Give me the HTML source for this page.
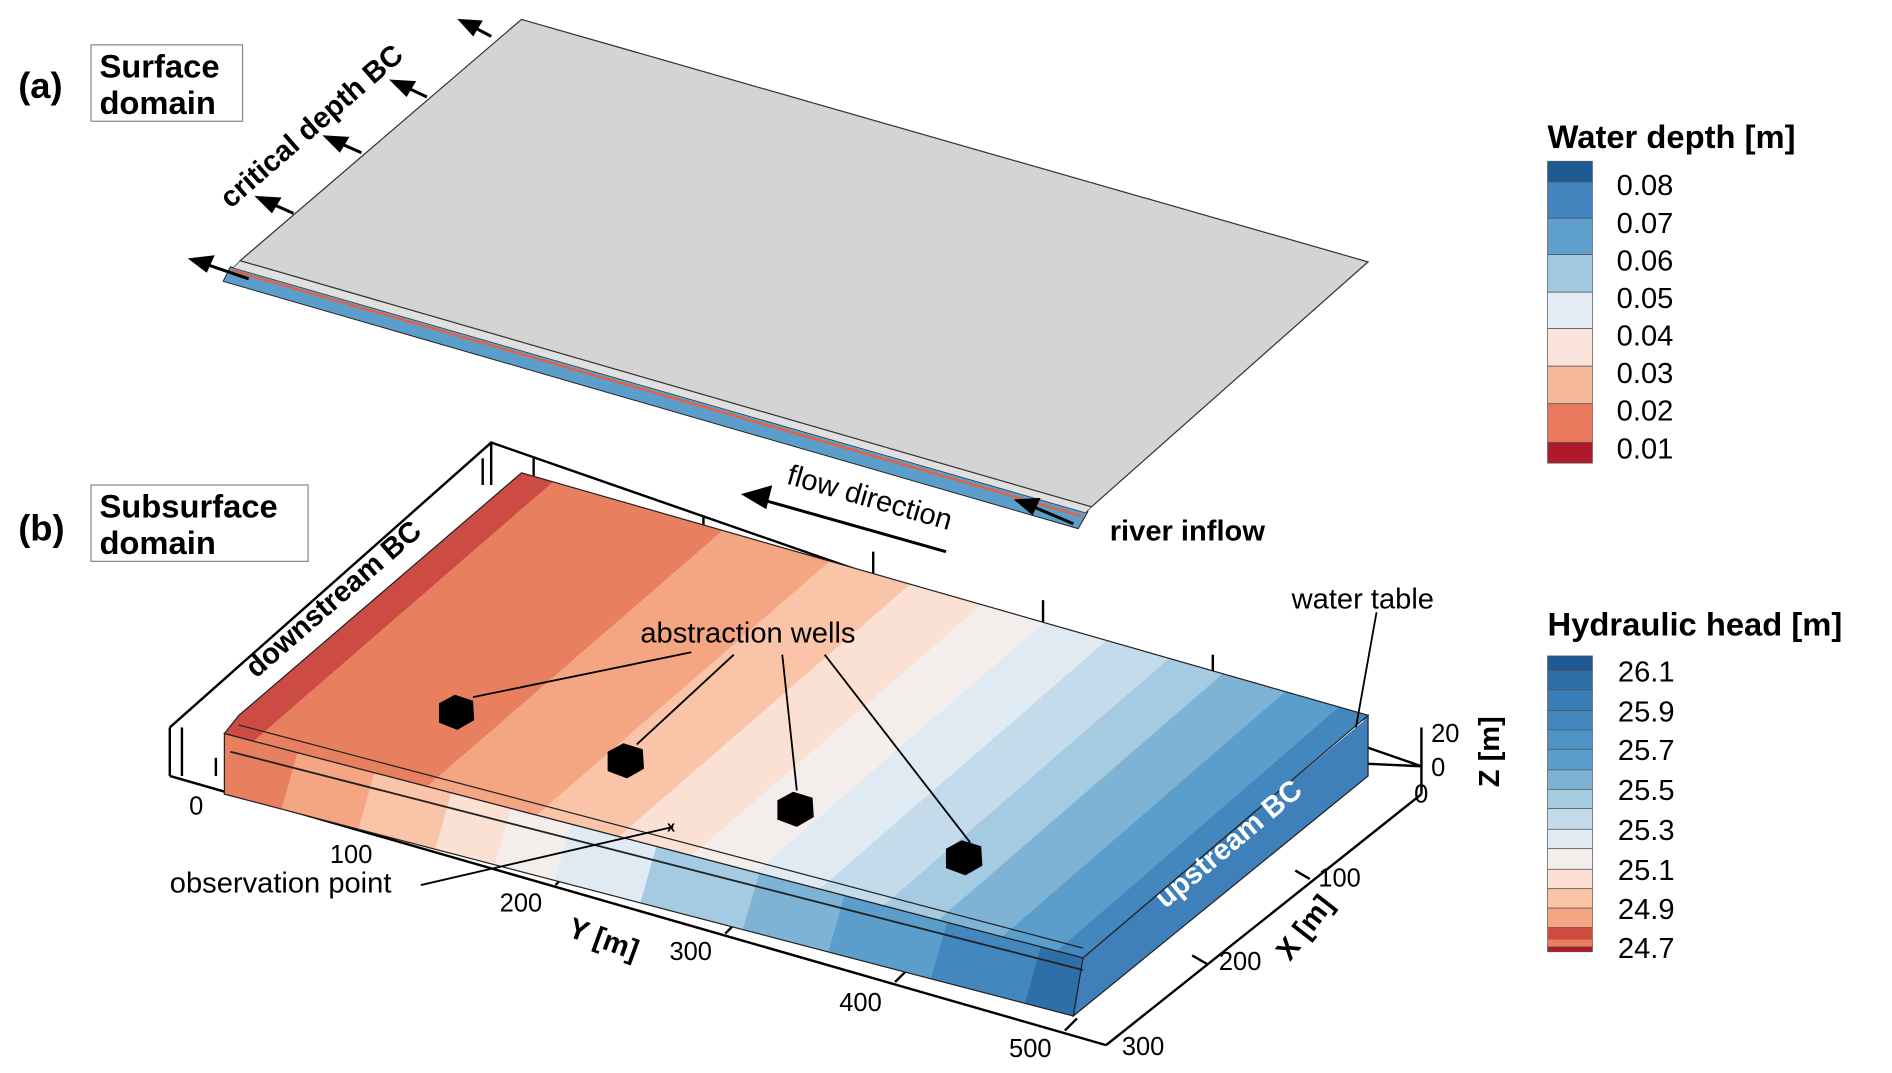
<!DOCTYPE html>
<html><head><meta charset="utf-8"><style>html,body{margin:0;padding:0;background:#fff}svg{display:block}text{font-family:"Liberation Sans",sans-serif}</style></head><body>
<svg width="1892" height="1073" viewBox="0 0 1560 885" preserveAspectRatio="none" xmlns="http://www.w3.org/2000/svg">
<defs>
<linearGradient id="hh" gradientUnits="userSpaceOnUse" x1="300" y1="490" x2="720" y2="975">
<stop offset="0" stop-color="#cc4c44"/><stop offset="0.05" stop-color="#cc4c44"/>
<stop offset="0.05" stop-color="#e8805f"/><stop offset="0.24" stop-color="#e8805f"/>
<stop offset="0.24" stop-color="#f4a582"/><stop offset="0.36" stop-color="#f4a582"/>
<stop offset="0.36" stop-color="#f9c4a8"/><stop offset="0.45" stop-color="#f9c4a8"/>
<stop offset="0.45" stop-color="#fbe1d4"/><stop offset="0.53" stop-color="#fbe1d4"/>
<stop offset="0.53" stop-color="#f3eeeb"/><stop offset="0.6" stop-color="#f3eeeb"/>
<stop offset="0.6" stop-color="#dfeaf2"/><stop offset="0.67" stop-color="#dfeaf2"/>
<stop offset="0.67" stop-color="#c3dbea"/><stop offset="0.74" stop-color="#c3dbea"/>
<stop offset="0.74" stop-color="#a5cbe2"/><stop offset="0.8" stop-color="#a5cbe2"/>
<stop offset="0.8" stop-color="#7fb3d5"/><stop offset="0.87" stop-color="#7fb3d5"/>
<stop offset="0.87" stop-color="#5b9ecb"/><stop offset="0.93" stop-color="#5b9ecb"/>
<stop offset="0.93" stop-color="#4387bf"/><stop offset="1" stop-color="#4387bf"/>
</linearGradient>
<linearGradient id="hf" gradientUnits="userSpaceOnUse" x1="185" y1="620" x2="885" y2="820">
<stop offset="0" stop-color="#e8805f"/><stop offset="0.08" stop-color="#e8805f"/>
<stop offset="0.08" stop-color="#f4a582"/><stop offset="0.17" stop-color="#f4a582"/>
<stop offset="0.17" stop-color="#f9c4a8"/><stop offset="0.26" stop-color="#f9c4a8"/>
<stop offset="0.26" stop-color="#fbe1d4"/><stop offset="0.33" stop-color="#fbe1d4"/>
<stop offset="0.33" stop-color="#f3eeeb"/><stop offset="0.4" stop-color="#f3eeeb"/>
<stop offset="0.4" stop-color="#dfeaf2"/><stop offset="0.5" stop-color="#dfeaf2"/>
<stop offset="0.5" stop-color="#a5cbe2"/><stop offset="0.62" stop-color="#a5cbe2"/>
<stop offset="0.62" stop-color="#7fb3d5"/><stop offset="0.72" stop-color="#7fb3d5"/>
<stop offset="0.72" stop-color="#5b9ecb"/><stop offset="0.84" stop-color="#5b9ecb"/>
<stop offset="0.84" stop-color="#4387bf"/><stop offset="0.95" stop-color="#4387bf"/>
<stop offset="0.95" stop-color="#2d6fa6"/><stop offset="1" stop-color="#2d6fa6"/>
</linearGradient>
</defs>

<!-- Surface domain -->
<polygon points="190,220 897,422 889,436 184,232" fill="#5b9ecb" stroke="#222" stroke-width="0.8"/>
<polygon points="198,215 900,418 895,423 192,221" fill="#e0e0e0" stroke="#333" stroke-width="0.6"/>
<line x1="191" y1="223" x2="893" y2="426" stroke="#e8603f" stroke-width="2"/>
<polygon points="430,16 1128,216 900,418 198,215" fill="#d4d4d4" stroke="#333" stroke-width="1"/>
<g stroke="#000" stroke-width="2.5" fill="#000">
<line x1="405" y1="30" x2="390" y2="22"/><polygon points="380,17 396,18 390,28"/>
<line x1="352" y1="80" x2="335" y2="72"/><polygon points="324,67 341,68 335,78"/>
<line x1="298" y1="126" x2="280" y2="118"/><polygon points="269,113 286,114 280,124"/>
<line x1="242" y1="176" x2="224" y2="168"/><polygon points="213,163 230,164 224,174"/>
<line x1="205" y1="230" x2="170" y2="218"/><polygon points="158,214 175,212 170,223"/>
<line x1="885" y1="432" x2="852" y2="418"/><polygon points="839,413 856,412 851,423"/>
<line x1="780" y1="455" x2="628" y2="412"/><polygon points="614,408 635,402 631,418"/>
</g>

<!-- Subsurface frame -->
<g stroke="#000" stroke-width="2" fill="none">
<polyline points="140,600 405,365 1172,632"/>
<line x1="405" y1="365" x2="405" y2="400"/>
<line x1="140" y1="600" x2="140" y2="640"/>
<line x1="150" y1="600" x2="150" y2="640"/>
<line x1="140" y1="640" x2="912" y2="862"/>
<line x1="912" y1="862" x2="1172" y2="655"/>
<line x1="1172" y1="600" x2="1172" y2="655"/>
<line x1="1128" y1="630" x2="1172" y2="632"/>
<line x1="398" y1="378" x2="398" y2="400"/>
<line x1="440" y1="378" x2="440" y2="395"/>
<line x1="580" y1="425" x2="580" y2="445"/>
<line x1="720" y1="455" x2="720" y2="475"/>
<line x1="860" y1="495" x2="860" y2="515"/>
<line x1="1000" y1="540" x2="1000" y2="560"/>
<line x1="178" y1="640" x2="178" y2="625"/>
<line x1="318" y1="690" x2="328" y2="680"/>
<line x1="458" y1="730" x2="468" y2="720"/>
<line x1="598" y1="770" x2="608" y2="760"/>
<line x1="738" y1="810" x2="748" y2="800"/>
<line x1="878" y1="850" x2="888" y2="840"/>
<line x1="1080" y1="725" x2="1068" y2="718"/>
<line x1="995" y1="795" x2="983" y2="788"/>
</g>

<!-- colored block -->
<polygon points="185,605 893,790 885,838 185,655" fill="url(#hf)" stroke="#222" stroke-width="1"/>
<polygon points="893,790 1128,590 1128,640 885,838" fill="#3f7fba" stroke="#222" stroke-width="1"/>
<line x1="897" y1="783" x2="1124" y2="594" stroke="#fff" stroke-width="1.5"/>
<polygon points="430,390 1128,590 893,790 185,605 197,590" fill="url(#hh)" stroke="#222" stroke-width="1"/>
<line x1="190" y1="620" x2="893" y2="800" stroke="#222" stroke-width="1.5"/>
<line x1="197" y1="598" x2="893" y2="782" stroke="#222" stroke-width="1"/>

<!-- wells -->
<g fill="#000">
<polygon points="362,580 375,573 390,578 391,594 377,602 362,596"/>
<polygon points="501,620 514,613 530,618 531,634 517,642 501,636"/>
<polygon points="641,660 654,653 670,658 671,674 657,682 641,676"/>
<polygon points="780,700 793,693 809,698 810,714 796,722 780,716"/>
</g>
<g stroke="#000" stroke-width="1.5">
<line x1="390" y1="575" x2="570" y2="538"/>
<line x1="525" y1="614" x2="605" y2="540"/>
<line x1="657" y1="652" x2="645" y2="540"/>
<line x1="800" y1="695" x2="680" y2="540"/>
<line x1="1135" y1="505" x2="1118" y2="600"/>
<line x1="347" y1="730" x2="555" y2="682"/>
</g>
<text x="550" y="686" font-size="12" font-weight="bold">x</text>

<!-- text -->
<text x="15" y="81" font-size="30" font-weight="bold">(a)</text>
<rect x="75" y="37" width="125" height="63" fill="#fff" stroke="#888" stroke-width="1"/>
<text x="82" y="64" font-size="27" font-weight="bold">Surface</text>
<text x="82" y="94" font-size="27" font-weight="bold">domain</text>
<text x="15" y="446" font-size="30" font-weight="bold">(b)</text>
<rect x="75" y="400" width="179" height="63" fill="#fff" stroke="#888" stroke-width="1"/>
<text x="82" y="427" font-size="27" font-weight="bold">Subsurface</text>
<text x="82" y="457" font-size="27" font-weight="bold">domain</text>

<text transform="translate(262,110) rotate(-41)" text-anchor="middle" font-size="24" font-weight="bold">critical depth BC</text>
<text transform="translate(280,500) rotate(-41)" text-anchor="middle" font-size="24" font-weight="bold">downstream BC</text>
<text transform="translate(1018,702) rotate(-40)" text-anchor="middle" font-size="24" font-weight="bold" fill="#fff">upstream BC</text>
<text transform="translate(715,418) rotate(16)" text-anchor="middle" font-size="24">flow direction</text>
<text x="915" y="446" font-size="24" font-weight="bold">river inflow</text>
<text x="1065" y="502" font-size="24">water table</text>
<text x="528" y="530" font-size="24">abstraction wells</text>
<text x="140" y="736" font-size="24">observation point</text>
<text transform="translate(495,782) rotate(20)" text-anchor="middle" font-size="24" font-weight="bold">Y [m]</text>
<text transform="translate(1082,770) rotate(-52)" text-anchor="middle" font-size="24" font-weight="bold">X [m]</text>
<text transform="translate(1236,620) rotate(-90)" text-anchor="middle" font-size="24" font-weight="bold">Z [m]</text>
<g font-size="21">
<text x="156" y="672">0</text><text x="272" y="712">100</text><text x="412" y="752">200</text><text x="552" y="792">300</text><text x="692" y="834">400</text><text x="832" y="872">500</text>
<text x="1166" y="662">0</text><text x="1087" y="731">100</text><text x="1005" y="800">200</text><text x="925" y="870">300</text>
<text x="1180" y="612">20</text><text x="1180" y="640">0</text>
</g>

<!-- legend 1 -->
<text x="1276" y="122" font-size="27" font-weight="bold">Water depth [m]</text>
<g stroke="#555" stroke-width="0.6">
<rect x="1276" y="133" width="37" height="17" fill="#1f5a94"/>
<rect x="1276" y="150" width="37" height="30" fill="#4383bd"/>
<rect x="1276" y="180" width="37" height="30" fill="#5f9fcc"/>
<rect x="1276" y="210" width="37" height="31" fill="#a1c9e2"/>
<rect x="1276" y="241" width="37" height="30" fill="#e3ecf3"/>
<rect x="1276" y="271" width="37" height="31" fill="#f9e3da"/>
<rect x="1276" y="302" width="37" height="31" fill="#f5b89a"/>
<rect x="1276" y="333" width="37" height="32" fill="#e8795c"/>
<rect x="1276" y="365" width="37" height="17" fill="#b2182b"/>
</g>
<g font-size="24">
<text x="1333" y="161">0.08</text><text x="1333" y="192">0.07</text><text x="1333" y="223">0.06</text><text x="1333" y="254">0.05</text><text x="1333" y="285">0.04</text><text x="1333" y="316">0.03</text><text x="1333" y="347">0.02</text><text x="1333" y="378">0.01</text>
</g>

<!-- legend 2 -->
<text x="1276" y="524" font-size="27" font-weight="bold">Hydraulic head [m]</text>
<g stroke="#555" stroke-width="0.6">
<rect x="1276" y="541" width="37" height="12" fill="#1d5a93"/>
<rect x="1276" y="553" width="37" height="16" fill="#2d6fa6"/>
<rect x="1276" y="569" width="37" height="17" fill="#3a7db6"/>
<rect x="1276" y="586" width="37" height="16" fill="#4387bf"/>
<rect x="1276" y="602" width="37" height="16" fill="#4f93c6"/>
<rect x="1276" y="618" width="37" height="17" fill="#5b9ecb"/>
<rect x="1276" y="635" width="37" height="16" fill="#7fb3d5"/>
<rect x="1276" y="651" width="37" height="16" fill="#a5cbe2"/>
<rect x="1276" y="667" width="37" height="17" fill="#c3dbea"/>
<rect x="1276" y="684" width="37" height="16" fill="#dfeaf2"/>
<rect x="1276" y="700" width="37" height="17" fill="#f3eeeb"/>
<rect x="1276" y="717" width="37" height="16" fill="#fbe1d4"/>
<rect x="1276" y="733" width="37" height="16" fill="#f9c4a8"/>
<rect x="1276" y="749" width="37" height="16" fill="#f4a582"/>
<rect x="1276" y="765" width="37" height="16" fill="#e8805f"/>
<rect x="1276" y="781" width="37" height="4" fill="#b2182b"/>
</g>
<rect x="1276" y="765" width="37" height="10" fill="#cc4c44"/>
<g font-size="24">
<text x="1334" y="562">26.1</text><text x="1334" y="595">25.9</text><text x="1334" y="627">25.7</text><text x="1334" y="660">25.5</text><text x="1334" y="693">25.3</text><text x="1334" y="726">25.1</text><text x="1334" y="758">24.9</text><text x="1334" y="790">24.7</text>
</g>
</svg>
</body></html>
